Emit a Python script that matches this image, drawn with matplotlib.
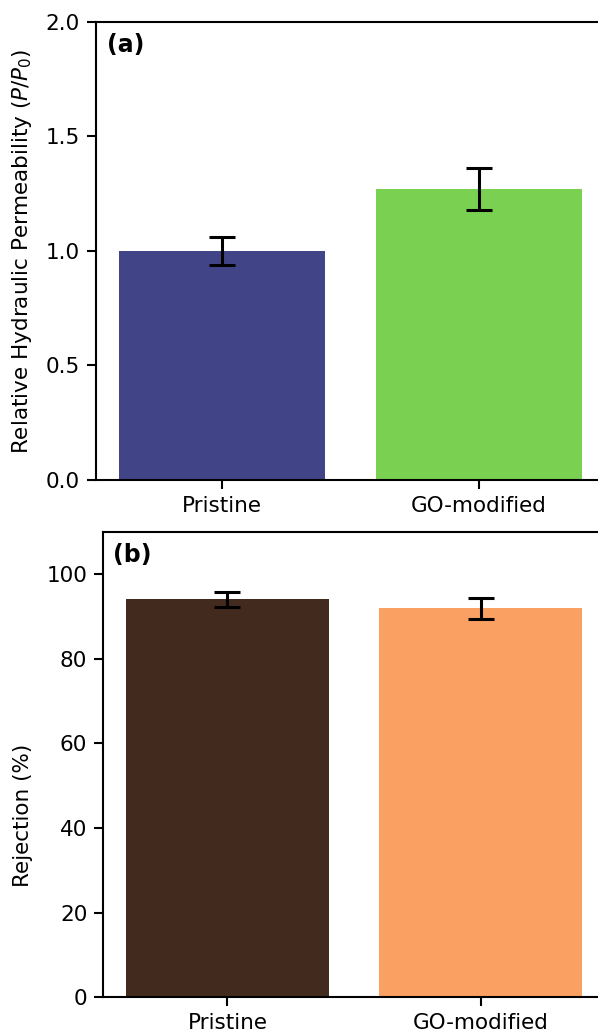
import matplotlib
matplotlib.use('Agg')
import matplotlib.pyplot as plt

# membrane samples
samples = ['Pristine', 'GO-modified']

# (a) relative hydraulic permeability
permeability = [1.00, 1.27]
permeability_err = [0.06, 0.09]

# (b) rejection
rejection = [94.0, 91.9]
rejection_err = [1.7, 2.5]

plt.rcParams['font.size'] = 15.5
plt.rcParams['axes.linewidth'] = 1.5

W, H = 598, 1035
fig = plt.figure(figsize=(W / 100, H / 100), dpi=100)

def box(left, top, right, bottom):
    return [left / W, 1 - bottom / H, (right - left) / W, (bottom - top) / H]

ax1 = fig.add_axes(box(96, 21.7, 605, 480))
ax2 = fig.add_axes(box(103.3, 531.7, 605, 997.3))

err_kw = dict(elinewidth=2.2, capthick=2.2, ecolor='black')

ax1.bar(samples, permeability, yerr=permeability_err, width=0.8,
        color=['#414487', '#7ad151'], capsize=9.5, error_kw=err_kw)
ax1.set_ylim(0, 2.0)
ax1.set_yticks([0.0, 0.5, 1.0, 1.5, 2.0])
ax1.set_ylabel('Relative Hydraulic Permeability ($P/P_0$)')
ax1.text(0.021, 0.975, '(a)', transform=ax1.transAxes, fontsize=17,
         fontweight='bold', va='top', ha='left')

ax2.bar(samples, rejection, yerr=rejection_err, width=0.8,
        color=['#432a1e', '#fba063'], capsize=9.5, error_kw=err_kw)
ax2.set_ylim(0, 110)
ax2.set_yticks([0, 20, 40, 60, 80, 100])
ax2.set_ylabel('Rejection (%)')
ax2.text(0.02, 0.975, '(b)', transform=ax2.transAxes, fontsize=17,
         fontweight='bold', va='top', ha='left')

for ax in (ax1, ax2):
    ax.tick_params(length=6.5, width=1.5, pad=5)

ax1.yaxis.set_label_coords(-0.122, 0.5)
ax2.yaxis.set_label_coords(-0.140, 0.39)

fig.savefig('out.png', dpi=100)
